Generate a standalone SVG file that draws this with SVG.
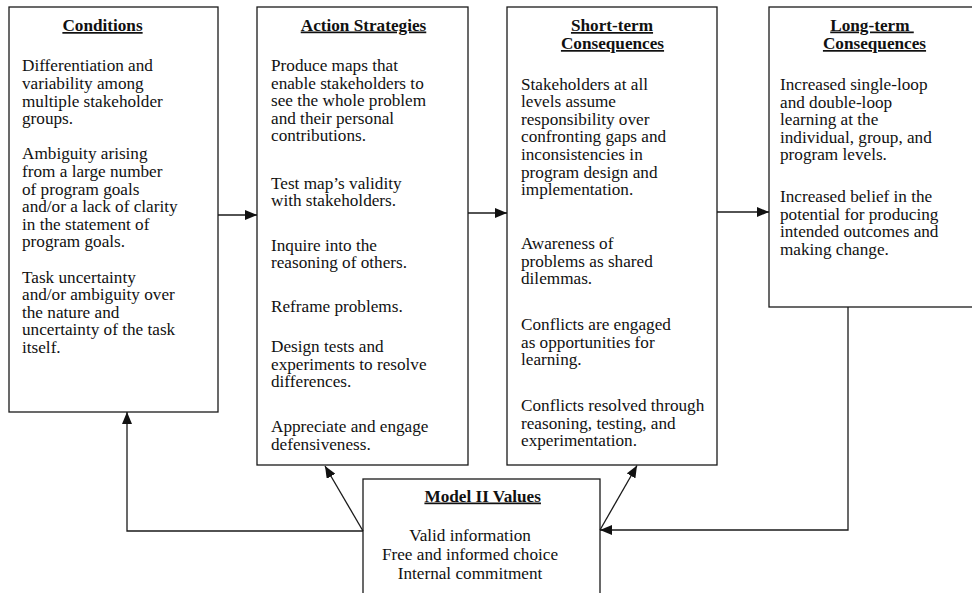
<svg xmlns="http://www.w3.org/2000/svg" width="972" height="593" viewBox="0 0 972 593">
<style>
.box{fill:#fff;stroke:#1a1a1a;stroke-width:1.3}
.t{font-family:"Liberation Serif","Times New Roman",serif;font-size:17.2px;fill:#111}
.h{font-family:"Liberation Serif","Times New Roman",serif;font-size:17.2px;font-weight:bold;fill:#111;text-anchor:middle;text-decoration:underline}
.c{text-anchor:middle}
.ln{fill:none;stroke:#1a1a1a;stroke-width:1.3}
</style>
<defs>
<marker id="ah" viewBox="0 0 12 10" refX="12" refY="5" markerWidth="12" markerHeight="10" markerUnits="userSpaceOnUse" orient="auto">
<path d="M0,0 L12,5 L0,10 Z" fill="#111"/>
</marker>
</defs>
<rect width="972" height="593" fill="#fff"/>

<g id="conditions">
<rect class="box" x="9" y="7" width="209" height="405"/>
<text class="h" x="102.5" y="31">Conditions</text>
<text class="t" x="22" y="71.3">Differentiation and</text>
<text class="t" x="22" y="88.9">variability among</text>
<text class="t" x="22" y="106.5">multiple stakeholder</text>
<text class="t" x="22" y="124.1">groups.</text>
<text class="t" x="22" y="159.3">Ambiguity arising</text>
<text class="t" x="22" y="176.9">from a large number</text>
<text class="t" x="22" y="194.5">of program goals</text>
<text class="t" x="22" y="212.1">and/or a lack of clarity</text>
<text class="t" x="22" y="229.7">in the statement of</text>
<text class="t" x="22" y="247.3">program goals.</text>
<text class="t" x="22" y="282.5">Task uncertainty</text>
<text class="t" x="22" y="300.1">and/or ambiguity over</text>
<text class="t" x="22" y="317.7">the nature and</text>
<text class="t" x="22" y="335.3">uncertainty of the task</text>
<text class="t" x="22" y="352.9">itself.</text>
</g>

<g id="action-strategies">
<rect class="box" x="257" y="7" width="211" height="458"/>
<text class="h" x="363.5" y="30.5">Action Strategies</text>
<text class="t" x="271" y="71">Produce maps that</text>
<text class="t" x="271" y="88.6">enable stakeholders to</text>
<text class="t" x="271" y="106.2">see the whole problem</text>
<text class="t" x="271" y="123.8">and their personal</text>
<text class="t" x="271" y="141.4">contributions.</text>
<text class="t" x="271" y="188.5">Test map’s validity</text>
<text class="t" x="271" y="206.1">with stakeholders.</text>
<text class="t" x="271" y="250.5">Inquire into the</text>
<text class="t" x="271" y="268.1">reasoning of others.</text>
<text class="t" x="271" y="311.5">Reframe problems.</text>
<text class="t" x="271" y="352">Design tests and</text>
<text class="t" x="271" y="369.6">experiments to resolve</text>
<text class="t" x="271" y="387.2">differences.</text>
<text class="t" x="271" y="432">Appreciate and engage</text>
<text class="t" x="271" y="449.6">defensiveness.</text>
</g>

<g id="short-term">
<rect class="box" x="507" y="7" width="210" height="458"/>
<text class="h" x="612" y="31">Short-term</text>
<text class="h" x="612.5" y="49">Consequences</text>
<text class="t" x="521" y="89.5">Stakeholders at all</text>
<text class="t" x="521" y="107.1">levels assume</text>
<text class="t" x="521" y="124.7">responsibility over</text>
<text class="t" x="521" y="142.3">confronting gaps and</text>
<text class="t" x="521" y="159.9">inconsistencies in</text>
<text class="t" x="521" y="177.5">program design and</text>
<text class="t" x="521" y="195.1">implementation.</text>
<text class="t" x="521" y="249">Awareness of</text>
<text class="t" x="521" y="266.6">problems as shared</text>
<text class="t" x="521" y="284.2">dilemmas.</text>
<text class="t" x="521" y="330">Conflicts are engaged</text>
<text class="t" x="521" y="347.6">as opportunities for</text>
<text class="t" x="521" y="365.2">learning.</text>
<text class="t" x="521" y="411">Conflicts resolved through</text>
<text class="t" x="521" y="428.6">reasoning, testing, and</text>
<text class="t" x="521" y="446.2">experimentation.</text>
</g>

<g id="long-term">
<rect class="box" x="769" y="7" width="220" height="300"/>
<text class="h" x="872" y="30.5">Long-term&#160;</text>
<text class="h" x="874.5" y="49">Consequences</text>
<text class="t" x="780" y="90">Increased single-loop</text>
<text class="t" x="780" y="107.6">and double-loop</text>
<text class="t" x="780" y="125.2">learning at the</text>
<text class="t" x="780" y="142.8">individual, group, and</text>
<text class="t" x="780" y="160.4">program levels.</text>
<text class="t" x="780" y="202">Increased belief in the</text>
<text class="t" x="780" y="219.6">potential for producing</text>
<text class="t" x="780" y="237.2">intended outcomes and</text>
<text class="t" x="780" y="254.8">making change.</text>
</g>

<g id="model-ii-values">
<rect class="box" x="363" y="479" width="237" height="130"/>
<text class="h" x="482.7" y="501.5">Model II Values</text>
<text class="t c" x="470" y="541">Valid information</text>
<text class="t c" x="470" y="560">Free and informed choice</text>
<text class="t c" x="470" y="579">Internal commitment</text>
</g>

<g id="connectors">
<line class="ln" x1="218" y1="215" x2="257" y2="215" marker-end="url(#ah)"/>
<line class="ln" x1="468" y1="213" x2="507" y2="213" marker-end="url(#ah)"/>
<line class="ln" x1="717" y1="212" x2="769" y2="212" marker-end="url(#ah)"/>
<polyline class="ln" points="363,531 127,531 127,412" marker-end="url(#ah)"/>
<line class="ln" x1="363" y1="531" x2="325" y2="466" marker-end="url(#ah)"/>
<polyline class="ln" points="848,307 848,530 600,530" marker-end="url(#ah)"/>
<line class="ln" x1="600" y1="530" x2="637" y2="465.5" marker-end="url(#ah)"/>
</g>
</svg>
